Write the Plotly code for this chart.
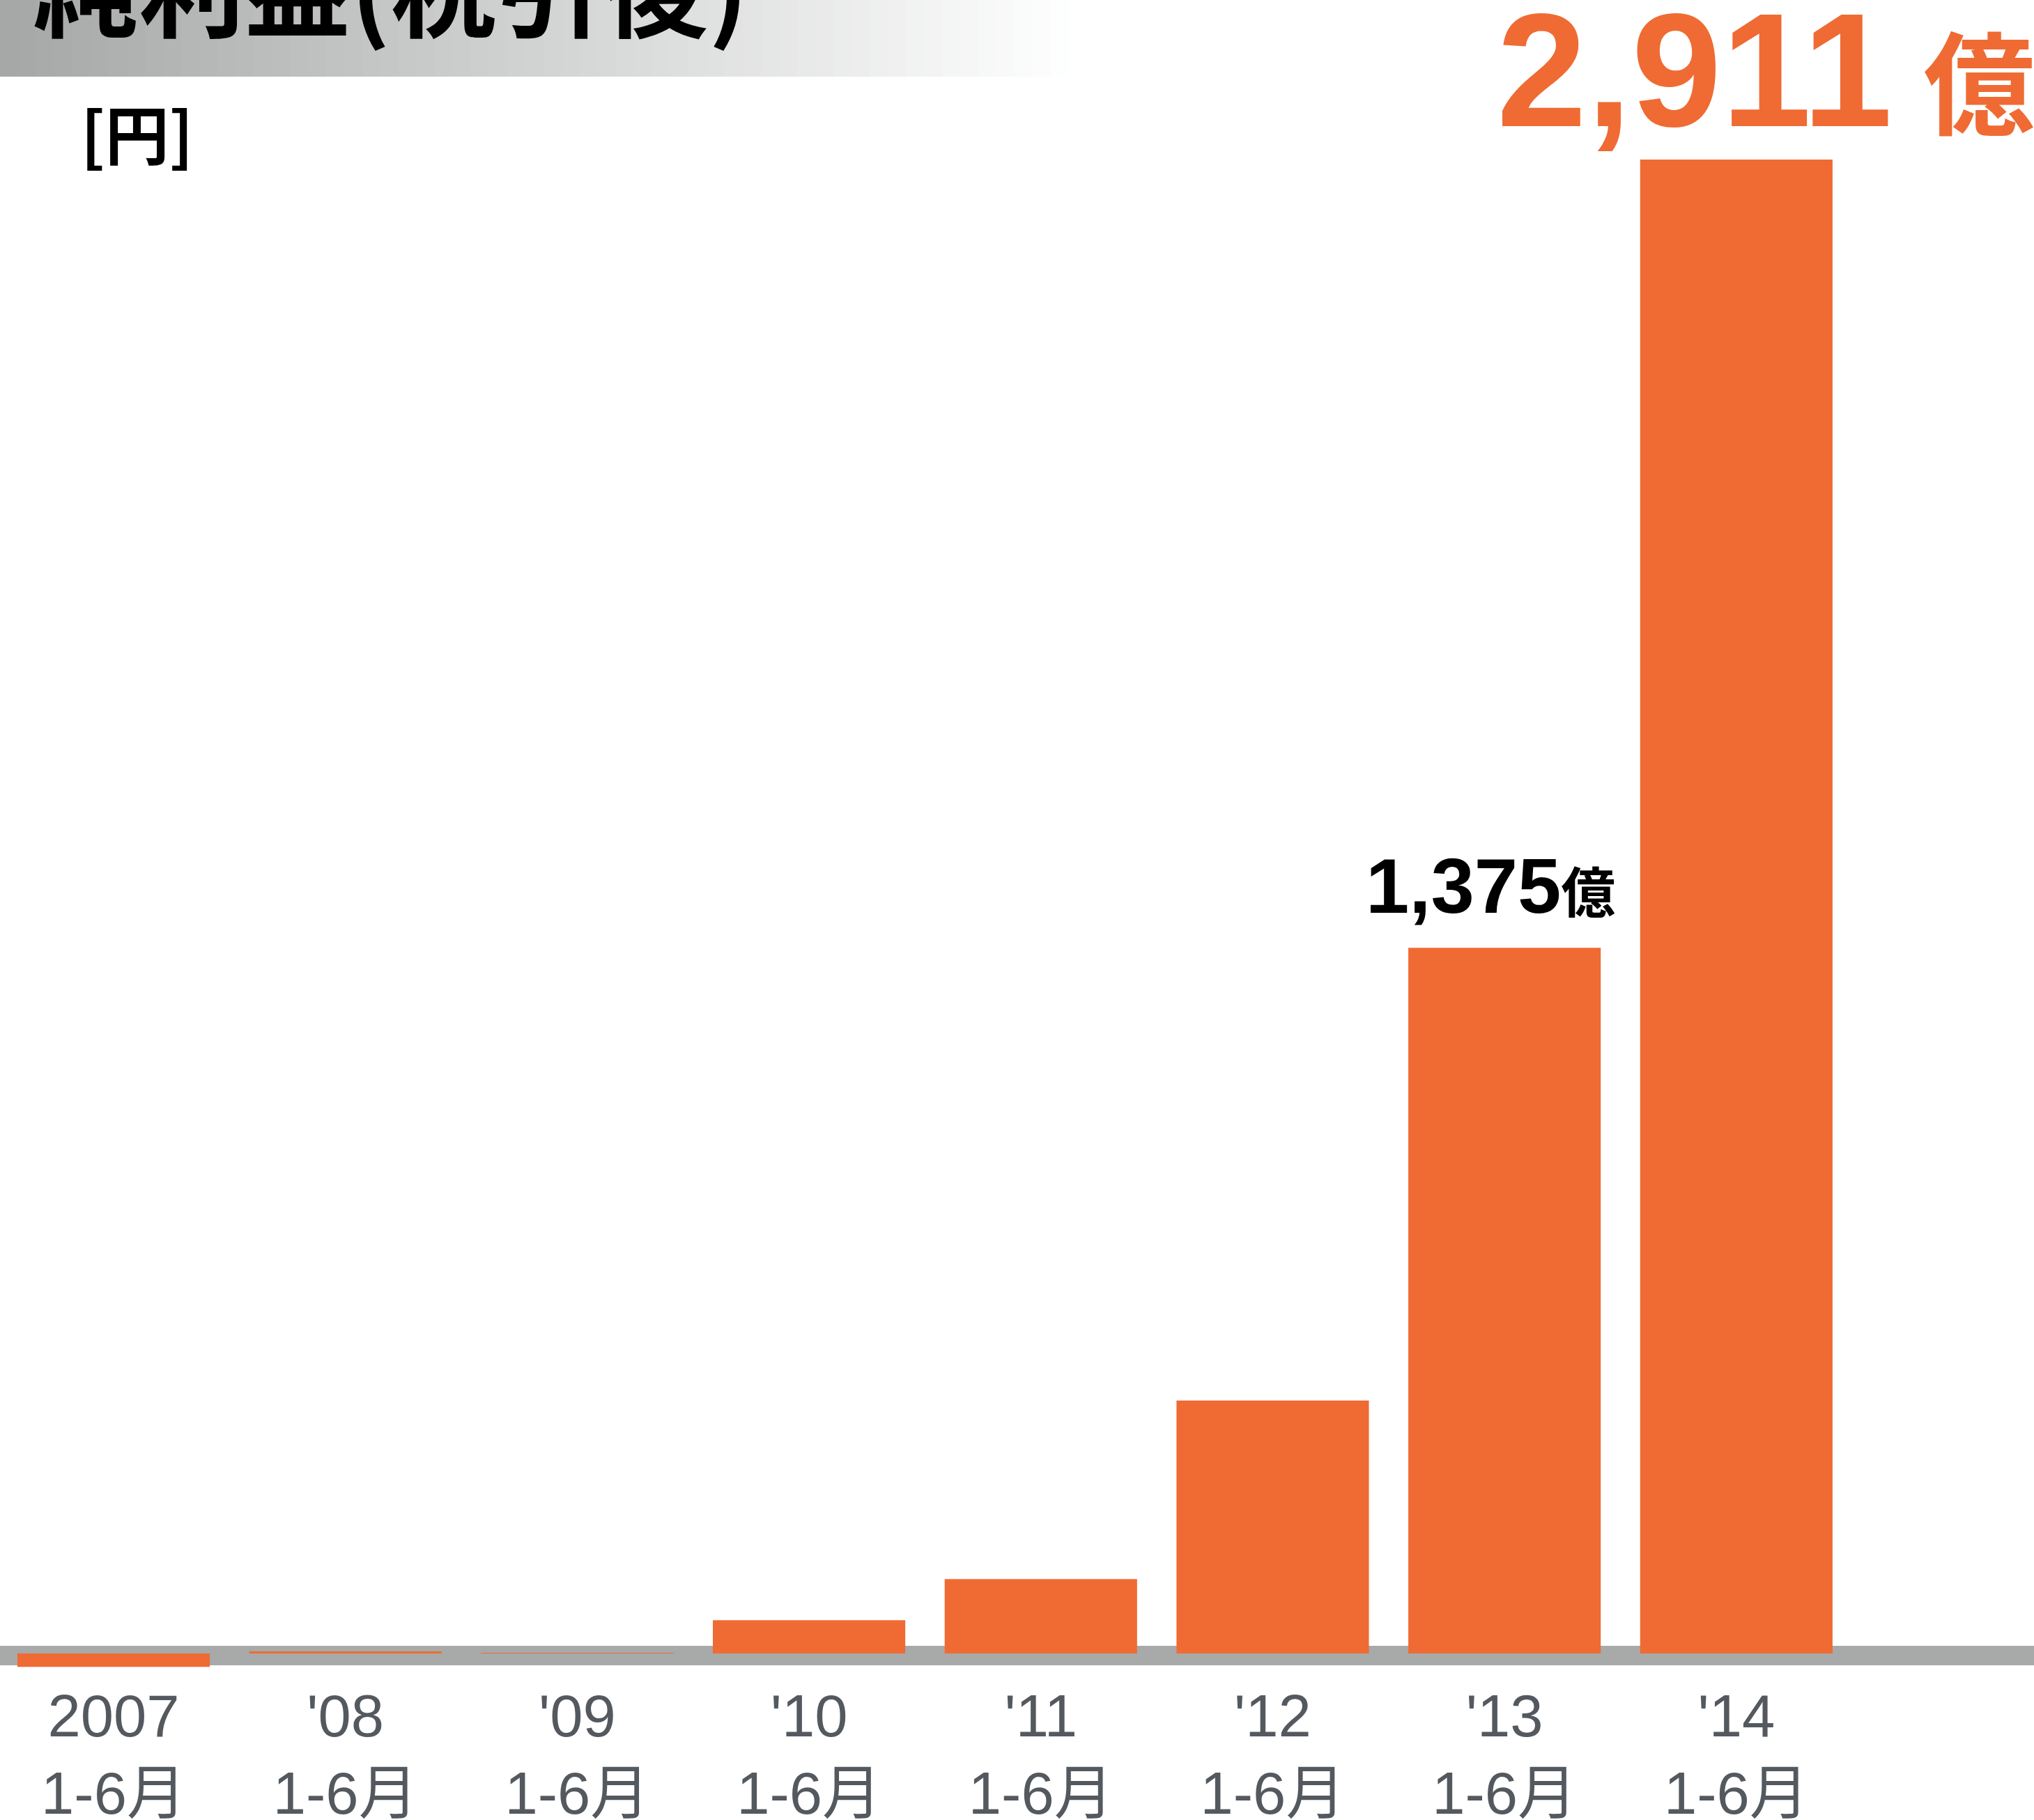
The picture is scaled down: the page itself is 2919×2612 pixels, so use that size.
import plotly.graph_objects as go

# Data (億円, 1-6月 net income after tax)
periods = ["2007", "'08", "'09", "'10", "'11", "'12", "'13", "'14"]
half_label = "1-6月"
net_income = [-26, 4, 1, 65, 145, 493, 1375, 2911]

ORANGE = '#ef6b33'
BAND_GRAY = '#a7aaa9'
TICK_GRAY = '#54595f'

W, H = 2919, 2612
MARGIN_B = 217
PLOT_H = H - MARGIN_B


def paper_y(px):
    """Convert a pixel offset from the top of the figure to paper y"""
    return 1 - px / PLOT_H


fig = go.Figure()

fig.add_trace(go.Bar(
    x=periods, y=net_income,
    marker={'color': ORANGE, 'line': {'width': 0}},
    hoverinfo='skip',
))

# Gray baseline band
fig.add_shape(type='rect', xref='paper', yref='paper',
              x0=0, x1=1, y0=paper_y(2390), y1=paper_y(2362),
              fillcolor=BAND_GRAY, line={'width': 0}, layer='below')

# Title band: gray -> white horizontal gradient
n_steps = 60
band_w = 1560 / W
c0 = (165, 168, 167)
for i in range(n_steps):
    t = i / (n_steps - 1)
    r, g, b = (int(round(c + (255 - c) * t)) for c in c0)
    fig.add_shape(type='rect', xref='paper', yref='paper',
                  x0=band_w * i / n_steps, x1=band_w * (i + 1) / n_steps + 0.001,
                  y0=paper_y(110), y1=1,
                  fillcolor=f'rgb({r},{g},{b})', line={'width': 0},
                  layer='below')

fig.add_annotation(
    text='純利益(税引後)', xref='paper', yref='paper',
    x=45 / W, y=paper_y(-24), xanchor='left', yanchor='middle',
    showarrow=False,
    font={'family': 'Noto Sans CJK JP', 'size': 152, 'color': 'black',
          'weight': 'bold'},
)
fig.add_annotation(
    text='[円]', xref='paper', yref='paper',
    x=114 / W, y=paper_y(188), xanchor='left', yanchor='middle',
    showarrow=False,
    font={'family': 'Noto Sans CJK JP', 'size': 92, 'color': 'black',
          'weight': 'bold'},
)

# Value labels
fig.add_annotation(
    text=f"{net_income[6]:,}<span style='font-size:78px'>億</span>",
    x=periods[6], y=net_income[6], xanchor='center', yanchor='bottom',
    xshift=-20, yshift=24, showarrow=False,
    font={'family': 'Liberation Sans, Noto Sans CJK JP', 'size': 112,
          'color': 'black', 'weight': 'bold'},
)
fig.add_annotation(
    text=f"{net_income[7]:,}<span style='font-size:160px'> 億</span>",
    x=periods[7], y=net_income[7], xanchor='left', yanchor='bottom',
    xshift=-346, yshift=-3, showarrow=False,
    font={'family': 'Liberation Sans, Noto Sans CJK JP', 'size': 232,
          'color': ORANGE, 'weight': 'bold'},
)

# pixel scale: 2911 -> 2144 px above the zero line at y=2373
px_per_unit = (2373 - 229) / 2911
y_top = 2373 / px_per_unit
y_bottom = -(PLOT_H - 2373) / px_per_unit

fig.update_layout(
    width=W, height=H,
    margin={'l': 0, 'r': 0, 't': 0, 'b': MARGIN_B},
    paper_bgcolor='white', plot_bgcolor='white',
    showlegend=False, bargap=0.17,
    xaxis={
        'type': 'category', 'range': [-0.49, 8.284],
        'tickvals': periods,
        'ticktext': [f'{p}<br>{half_label}' for p in periods],
        'tickfont': {'family': 'Liberation Sans, Noto Sans CJK JP',
                     'size': 85, 'color': TICK_GRAY},
        'ticklabelstandoff': 11, 'automargin': False,
        'showgrid': False, 'zeroline': False, 'showline': False,
        'ticks': '',
    },
    yaxis={
        'range': [y_bottom, y_top], 'visible': False,
        'showgrid': False, 'zeroline': False, 'automargin': False,
    },
)

fig.write_html('out.html', config={'displayModeBar': False},
               post_script="document.body.style.margin='0';")
